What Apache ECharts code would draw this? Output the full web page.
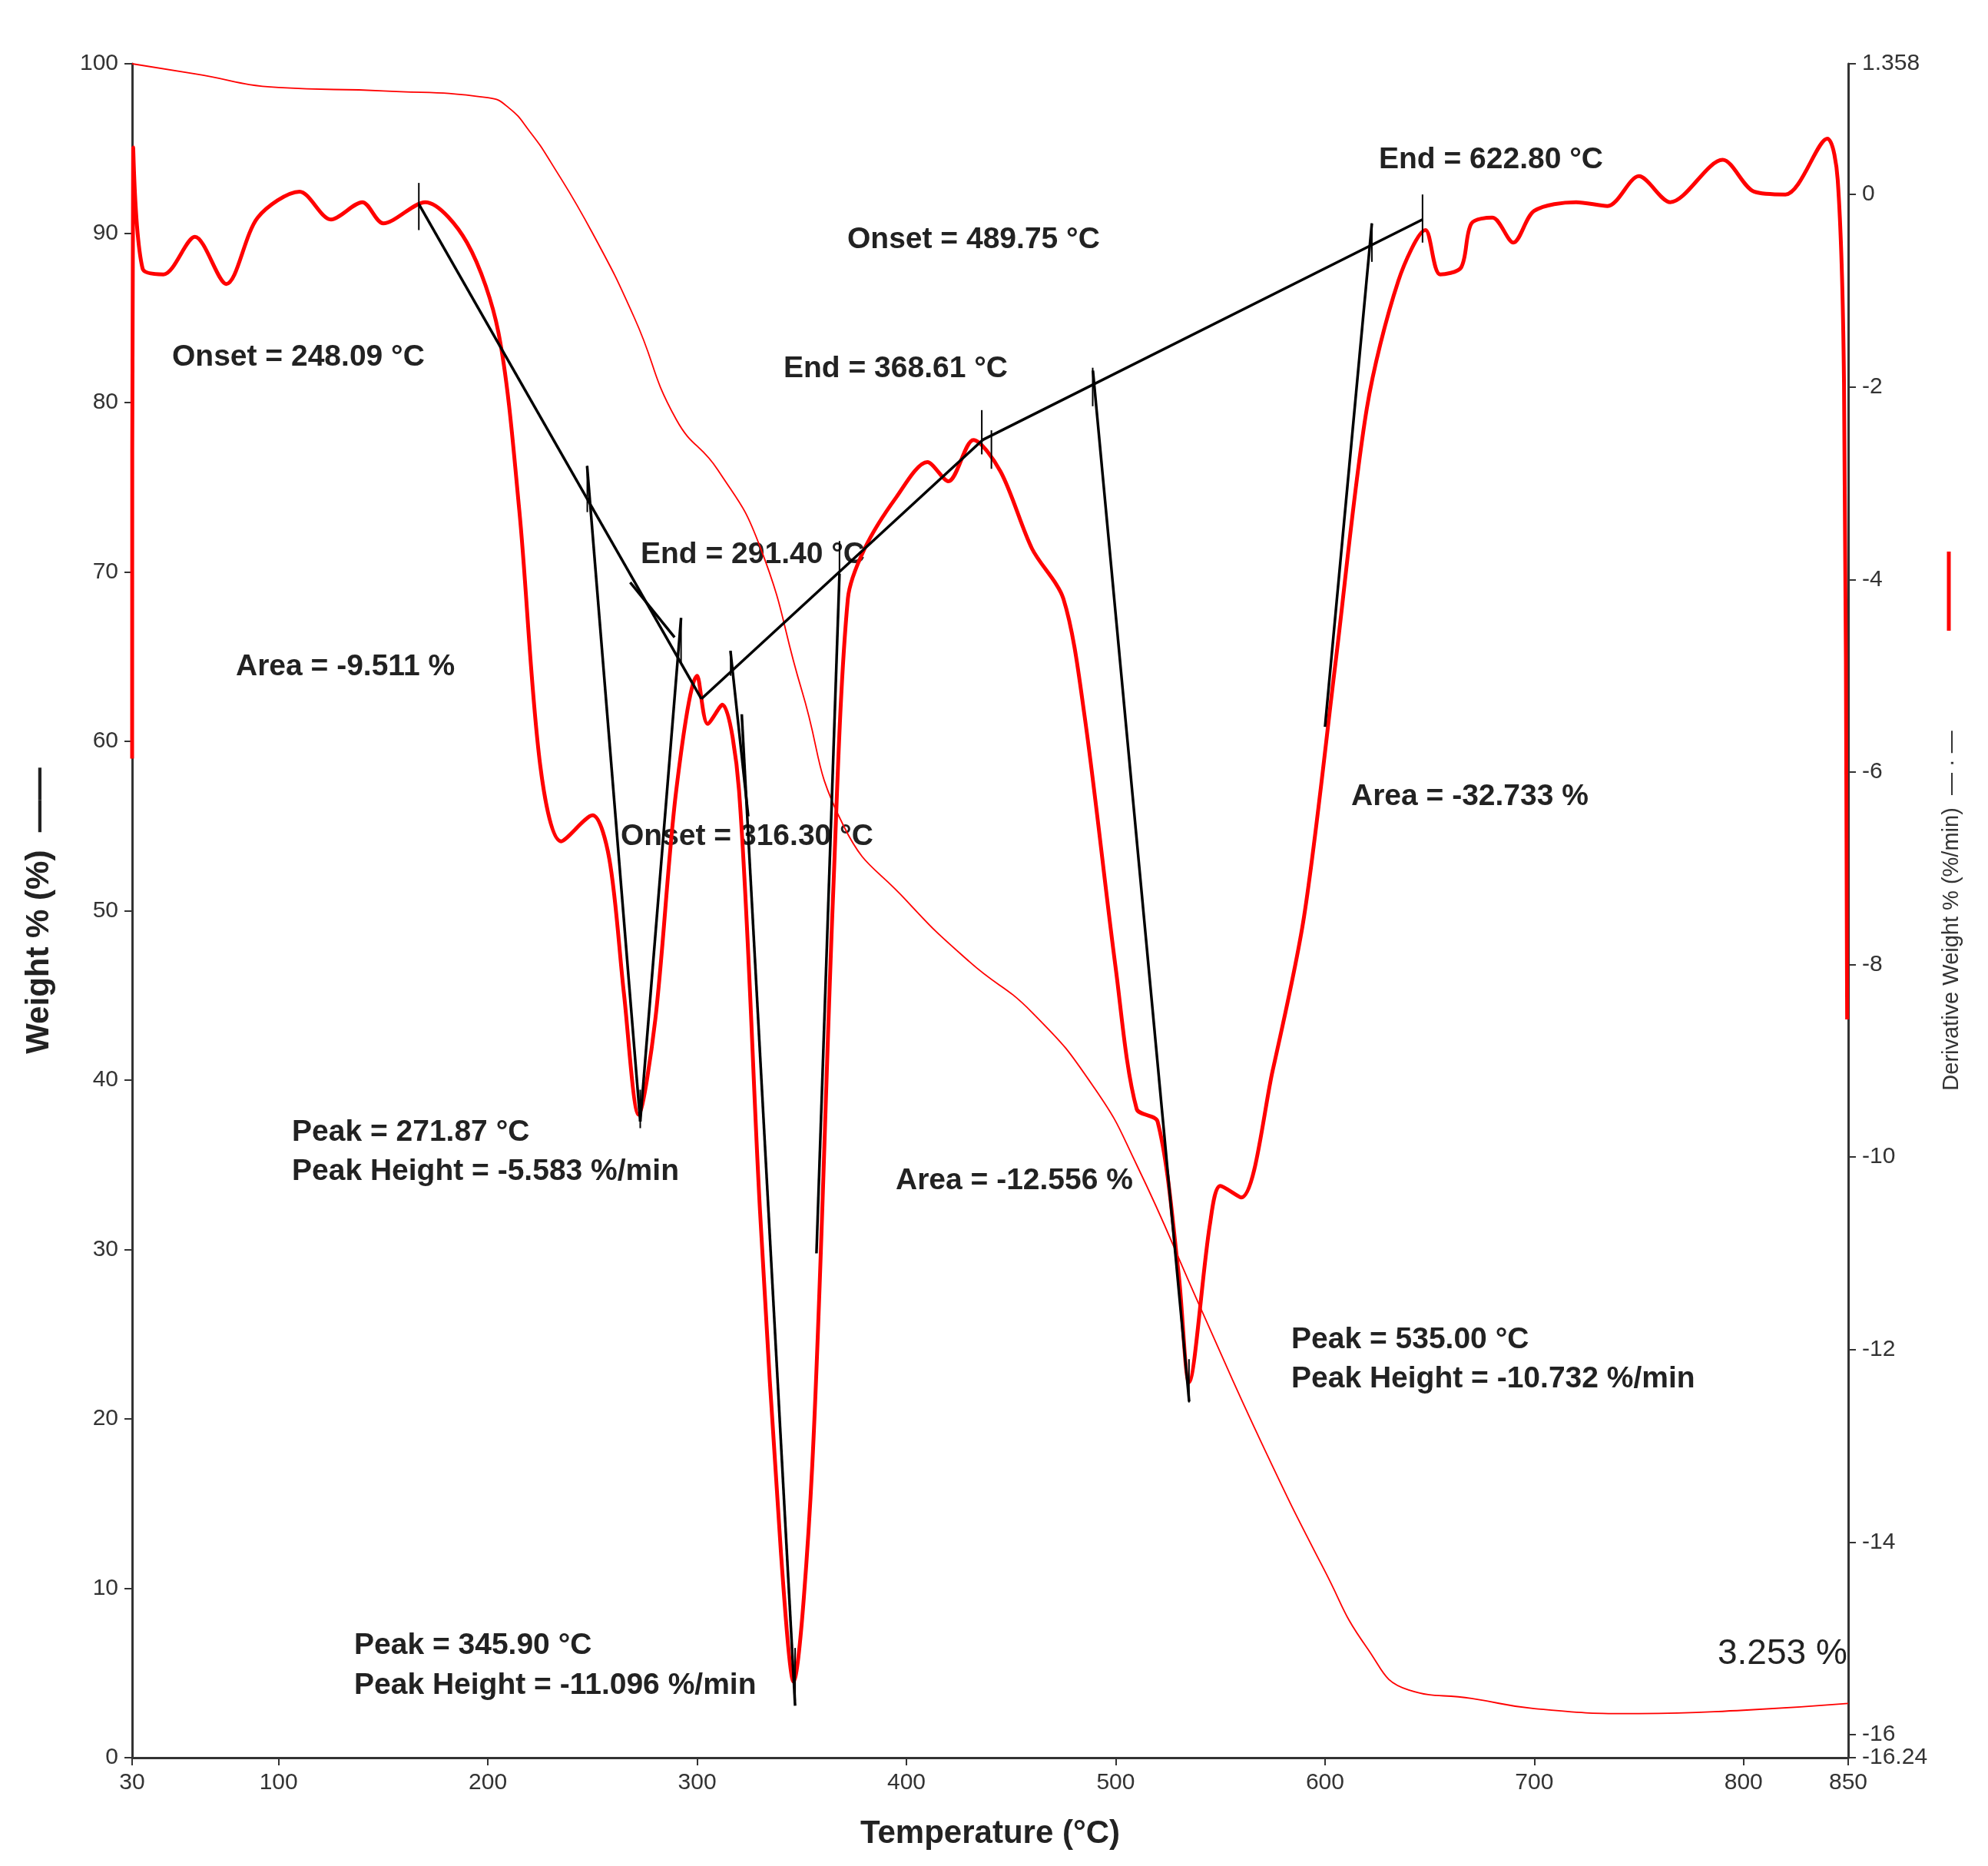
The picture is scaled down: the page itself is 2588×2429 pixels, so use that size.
<!DOCTYPE html>
<html><head><meta charset="utf-8">
<script src="https://cdn.jsdelivr.net/npm/echarts@6/dist/echarts.min.js"></script>
<style>html,body{margin:0;padding:0;background:#fff}#c{width:2588px;height:2429px}</style>
</head><body><div id="c"></div>
<script>
const weightT = [30,60,100,150,200,210,220,230,250,270,290,310,330,350,370,400,430,460,490,510,540,570,600,620,640,670,700,750,800,850];
const weightV = [100,99.4,98.6,98.4,98,97.4,96,94.2,90,85,79,76,71.5,63,55,50.6,47,44,39.5,35,26.7,18.5,11,6.5,4,3.5,2.9,2.6,2.8,3.2];
const derivT = [30,30.5,35,45,60,75,90,110,125,140,150,170,190,205,215,225,235,250,258,265,272,280,290,300,305,312,320,330,340,346,355,365,372,380,395,410,420,432,445,460,475,485,500,510,520,530,535,545,550,560,575,590,605,620,635,648,655,665,670,680,690,700,720,735,750,765,790,805,820,840,845,848,849.5];
const derivV = [-5.86,0.49,-0.77,-0.83,-0.44,-0.93,-0.24,0.03,-0.26,-0.08,-0.3,-0.08,-0.5,-1.43,-3.28,-5.93,-6.72,-6.45,-6.9,-8.3,-9.56,-8.57,-6.19,-5.0,-5.5,-5.3,-6.19,-10.55,-14.1,-15.45,-13.2,-7.25,-4.2,-3.68,-3.15,-2.78,-2.98,-2.55,-2.88,-3.68,-4.2,-5.4,-8.04,-9.5,-9.63,-11.2,-12.34,-10.7,-10.3,-10.42,-9.1,-7.5,-4.87,-2.22,-0.9,-0.37,-0.83,-0.76,-0.3,-0.24,-0.5,-0.17,-0.08,-0.12,0.19,-0.08,0.36,0.03,0,0.58,0.15,-1.96,-8.57];
const tangentSegs = [
 [167,-0.1,302,-5.24],[302,-5.24,436.4,-2.55],[436.4,-2.55,646.6,-0.26],
 [247.4,-2.82,272.8,-9.63],[272.8,-9.63,292.3,-4.4],[268,-4.03,289.2,-4.6],
 [315.9,-4.74,324.4,-6.46],[321.3,-5.4,346.8,-15.7],[357,-11,368,-3.94],
 [489.1,-1.83,535.1,-12.54],[600,-5.53,622.4,-0.3]
];
const markTicks = [[167,0.12,-0.37],[436,-2.24,-2.7],[440.6,-2.45,-2.85],[646.6,0.0,-0.5],[622.4,-0.3,-0.7],[247.5,-2.82,-3.3],[292.3,-4.4,-4.87],[316,-4.74,-5.0],[368,-3.6,-4.0],[489,-1.8,-2.2],[272.8,-9.3,-9.7],[346.8,-15.1,-15.65],[535,-12.1,-12.55]];
const xTicks = [30,100,200,300,400,500,600,700,800,850];
const rTicks = [-16.24,-16,-14,-12,-10,-8,-6,-4,-2,0,1.358];
const labels = [
 ['Onset = 248.09 °C',224,468],['End = 291.40 °C',834,725],['Area = -9.511 %',307,871],
 ['Onset = 316.30 °C',808,1092],['Peak = 271.87 °C',380,1477],['Peak Height = -5.583 %/min',380,1528],
 ['Peak = 345.90 °C',461,2145],['Peak Height = -11.096 %/min',461,2197],['End = 368.61 °C',1020,483],
 ['Onset = 489.75 °C',1103,315],['End = 622.80 °C',1795,211],['Area = -12.556 %',1166,1540],
 ['Area = -32.733 %',1759,1040],['Peak = 535.00 °C',1681,1747],['Peak Height = -10.732 %/min',1681,1798]
];
const series = [
 {type:'line',yAxisIndex:0,data:weightT.map((t,i)=>[t,weightV[i]]),smooth:true,showSymbol:false,lineStyle:{color:'#ff0000',width:1.8},z:2},
 {type:'line',yAxisIndex:1,data:derivT.map((t,i)=>[t,derivV[i]]),smooth:0.3,showSymbol:false,lineStyle:{color:'#ff0000',width:5},z:3}
];
tangentSegs.forEach(s=>series.push({type:'line',yAxisIndex:1,data:[[s[0],s[1]],[s[2],s[3]]],showSymbol:false,lineStyle:{color:'#000',width:3.5},z:4}));
markTicks.forEach(s=>series.push({type:'line',yAxisIndex:1,data:[[s[0],s[1]],[s[0],s[2]]],showSymbol:false,lineStyle:{color:'#000',width:2},z:4}));
const ax = {axisLine:{show:true,lineStyle:{color:'#333',width:3}},axisTick:{show:true,length:10,lineStyle:{color:'#333',width:2}},splitLine:{show:false},axisLabel:{color:'#333',fontSize:30,fontFamily:'Liberation Sans',margin:18}};
const chart = echarts.init(document.getElementById('c'));
chart.setOption({
 animation:false,backgroundColor:'#fff',
 grid:{left:172,right:182,top:83,bottom:141},
 xAxis:Object.assign({},ax,{type:'value',min:30,max:850,name:'Temperature (°C)',nameLocation:'middle',nameGap:78,
   nameTextStyle:{fontSize:42,fontWeight:'bold',color:'#222',fontFamily:'Liberation Sans'},
   axisTick:Object.assign({},ax.axisTick,{customValues:xTicks}),axisLabel:Object.assign({},ax.axisLabel,{customValues:xTicks})}),
 yAxis:[
  Object.assign({},ax,{type:'value',min:0,max:100,interval:10,position:'left',name:'Weight % (%)  ——',nameLocation:'middle',nameGap:100,
   nameTextStyle:{fontSize:42,fontWeight:'bold',color:'#222',fontFamily:'Liberation Sans'}}),
  Object.assign({},ax,{type:'value',min:-16.24,max:1.358,position:'right',name:'Derivative Weight % (%/min)  — · —',nameLocation:'middle',nameGap:120,nameRotate:90,
   nameTextStyle:{fontSize:29,color:'#333',fontFamily:'Liberation Sans'},
   axisTick:Object.assign({},ax.axisTick,{customValues:rTicks}),axisLabel:Object.assign({},ax.axisLabel,{customValues:rTicks})})
 ],
 graphic:labels.map(l=>({type:'text',left:l[1],top:l[2]-22,style:{text:l[0],fontSize:39,fontWeight:'bold',fill:'#222',fontFamily:'Liberation Sans'}}))
  .concat([{type:'text',left:2236,top:2130,style:{text:'3.253 %',fontSize:46,fill:'#222',fontFamily:'Liberation Sans'}},
   {type:'line',shape:{x1:2537,y1:718,x2:2537,y2:821},style:{stroke:'#ff0000',lineWidth:5}}]),
 series:series
});
</script></body></html>
